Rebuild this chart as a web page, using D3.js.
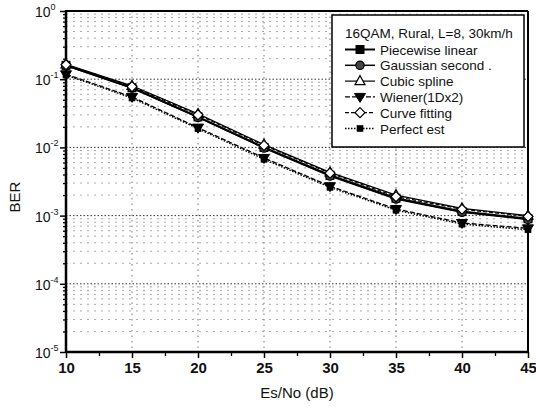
<!DOCTYPE html>
<html><head><meta charset="utf-8">
<script src="https://cdn.jsdelivr.net/npm/d3@7/dist/d3.min.js"></script>
<style>body{margin:0;background:#fff}svg{display:block;font-family:Arial,"Liberation Sans",sans-serif}</style>
</head><body><svg id="c" width="536" height="410"></svg>
<script>
const snr = [10, 15, 20, 25, 30, 35, 40, 45];
const piecewiseLinear = [0.160, 0.075, 0.028, 0.0100, 0.0039, 0.0018, 0.00115, 0.00090];
const gaussianSecond  = [0.158, 0.074, 0.0275, 0.0098, 0.0038, 0.00175, 0.00112, 0.00088];
const cubicSpline     = [0.165, 0.080, 0.031, 0.0110, 0.0043, 0.0020, 0.00128, 0.00100];
const wiener          = [0.118, 0.055, 0.0195, 0.0070, 0.0027, 0.00125, 0.00078, 0.00065];
const curveFitting    = [0.163, 0.078, 0.030, 0.0107, 0.0042, 0.0019, 0.00124, 0.00097];
const perfectEst      = [0.115, 0.053, 0.0188, 0.0067, 0.0026, 0.00120, 0.00075, 0.00062];
const seriesNames = ["Piecewise linear", "Gaussian second .", "Cubic spline", "Wiener(1Dx2)", "Curve fitting", "Perfect est"];
const xTicks = [10, 15, 20, 25, 30, 35, 40, 45];
const yExps = [0, -1, -2, -3, -4, -5];
const legendTitle = "16QAM, Rural, L=8, 30km/h";

const series = [
  {name: seriesNames[0], values: piecewiseLinear, marker: "square", fill: "#000", dash: null, w: 2},
  {name: seriesNames[1], values: gaussianSecond, marker: "circle", fill: "#444", dash: null, w: 1.5},
  {name: seriesNames[2], values: cubicSpline, marker: "triangle", fill: "#fff", dash: null, w: 1.2},
  {name: seriesNames[3], values: wiener, marker: "triangleDown", fill: "#000", dash: "5,2", w: 1.3},
  {name: seriesNames[4], values: curveFitting, marker: "diamond", fill: "#fff", dash: "4,2", w: 1.2},
  {name: seriesNames[5], values: perfectEst, marker: "smallSquare", fill: "#000", dash: "1.5,1.5", w: 1.4}
];

const svg = d3.select("#c");
const L = 66, R = 528, T = 11, B = 352;
const x = d3.scaleLinear().domain([10, 45]).range([L, R]);
const y = d3.scaleLog().domain([1e-5, 1]).range([B, T]);

// grid
const g = svg.append("g");
const minor = [];
for (let e = -5; e < 0; e++) for (let k = 2; k <= 9; k++) minor.push(k * Math.pow(10, e));
g.selectAll(".mg").data(minor).enter().append("line")
  .attr("x1", L).attr("x2", R).attr("y1", d => y(d)).attr("y2", d => y(d))
  .attr("stroke", "#aaa").attr("stroke-width", 1).attr("stroke-dasharray", "2,5");
g.selectAll(".Mg").data(yExps.slice(1, 5).map(e => Math.pow(10, e))).enter().append("line")
  .attr("x1", L).attr("x2", R).attr("y1", d => y(d)).attr("y2", d => y(d))
  .attr("stroke", "#333").attr("stroke-width", 1).attr("stroke-dasharray", "1.5,2");
g.selectAll(".vg").data(xTicks.slice(1, -1)).enter().append("line")
  .attr("y1", T).attr("y2", B).attr("x1", d => x(d)).attr("x2", d => x(d))
  .attr("stroke", "#777").attr("stroke-width", 1).attr("stroke-dasharray", "1.5,4");

// axes
const xAxis = d3.axisBottom(x).tickValues(xTicks).tickSize(6).tickPadding(4).tickFormat(d3.format("d"));
const xa = svg.append("g").attr("transform", `translate(0,${B})`).call(xAxis);
xa.selectAll(".tick line").attr("stroke-width", 1.5);
xa.select(".domain").remove();
xa.selectAll("text").attr("font-size", 15).attr("font-weight", "bold").attr("fill", "#111");
const xMinor = d3.axisBottom(x).tickValues(d3.range(12.5, 45, 5)).tickSize(4).tickFormat("");
const xm = svg.append("g").attr("transform", `translate(0,${B})`).call(xMinor);
xm.select(".domain").remove();
xm.selectAll(".tick line").attr("stroke-width", 1.3);

const yMinorAxis = d3.axisLeft(y).tickValues(minor).tickSize(3).tickFormat("");
const ym = svg.append("g").attr("transform", `translate(${L},0)`).call(yMinorAxis);
ym.select(".domain").remove();
ym.selectAll(".tick line").attr("stroke-width", 1.3);
const yAxis = d3.axisLeft(y).tickValues(yExps.map(e => Math.pow(10, e))).tickSize(6).tickFormat("");
const ya = svg.append("g").attr("transform", `translate(${L},0)`).call(yAxis);
ya.select(".domain").remove();
ya.selectAll(".tick line").attr("stroke-width", 1.5);
const yl = svg.append("g");
yExps.forEach(e => {
  const t = yl.append("text").attr("x", 35).attr("y", y(Math.pow(10, e)) + 6)
    .attr("text-anchor", "start").attr("font-size", 14).attr("fill", "#111");
  t.append("tspan").text("10");
  t.append("tspan").attr("dy", -7).attr("font-size", 9).text(String(e));
});

// frame
svg.append("line").attr("x1", L).attr("x2", L).attr("y1", T - 1).attr("y2", B + 1).attr("stroke", "#000").attr("stroke-width", 2.5);
svg.append("line").attr("x1", L).attr("x2", R).attr("y1", B).attr("y2", B).attr("stroke", "#000").attr("stroke-width", 2.5);
svg.append("line").attr("x1", L).attr("x2", R).attr("y1", T).attr("y2", T).attr("stroke", "#000").attr("stroke-width", 2);
svg.append("line").attr("x1", R).attr("x2", R).attr("y1", T).attr("y2", B).attr("stroke", "#000").attr("stroke-width", 2);

// titles
svg.append("text").attr("x", 297).attr("y", 398).attr("text-anchor", "middle")
  .attr("font-size", 15).attr("fill", "#111").text("Es/No (dB)");
svg.append("text").attr("transform", "translate(20,197) rotate(-90)").attr("text-anchor", "middle")
  .attr("font-size", 15).attr("fill", "#111").text("BER");

// markers
function drawMarker(sel, type, fill, cx, cy) {
  const s = 4;
  if (type === "square") sel.append("rect").attr("x", cx - s).attr("y", cy - s).attr("width", 2 * s).attr("height", 2 * s).attr("fill", fill).attr("stroke", "#000");
  else if (type === "smallSquare") sel.append("rect").attr("x", cx - 3).attr("y", cy - 3).attr("width", 6).attr("height", 6).attr("fill", fill).attr("stroke", "#000").attr("stroke-width", 0.6);
  else if (type === "circle") sel.append("circle").attr("cx", cx).attr("cy", cy).attr("r", 4.2).attr("fill", fill).attr("stroke", "#000").attr("stroke-width", 1.2);
  else if (type === "triangle") sel.append("path").attr("d", `M${cx},${cy - 5.5}L${cx + 5},${cy + 3.5}L${cx - 5},${cy + 3.5}Z`).attr("fill", fill).attr("stroke", "#000").attr("stroke-width", 1.2);
  else if (type === "triangleDown") sel.append("path").attr("d", `M${cx},${cy + 5.5}L${cx + 5.5},${cy - 3.5}L${cx - 5.5},${cy - 3.5}Z`).attr("fill", fill).attr("stroke", "#000");
  else if (type === "diamond") sel.append("path").attr("d", `M${cx},${cy - 5}L${cx + 5},${cy}L${cx},${cy + 5}L${cx - 5},${cy}Z`).attr("fill", fill).attr("stroke", "#000").attr("stroke-width", 1.2);
}

const line = d3.line().x((d, i) => x(snr[i])).y(d => y(d));
const plot = svg.append("g");
series.forEach(s => {
  plot.append("path").attr("d", line(s.values)).attr("fill", "none").attr("stroke", "#000")
    .attr("stroke-width", s.w).attr("stroke-dasharray", s.dash);
});
series.forEach(s => {
  const mg = plot.append("g");
  s.values.forEach((v, i) => drawMarker(mg, s.marker, s.fill, x(snr[i]), y(v)));
});

// legend
const lg = svg.append("g");
lg.append("rect").attr("x", 332).attr("y", 15).attr("width", 192).attr("height", 132)
  .attr("fill", "#fff").attr("stroke", "#000").attr("stroke-width", 1.5);
lg.append("text").attr("x", 345).attr("y", 38).attr("font-size", 13.5).attr("fill", "#111").text(legendTitle);
series.forEach((s, i) => {
  const cy = 49.5 + i * 15.8;
  lg.append("line").attr("x1", 345).attr("x2", 375).attr("y1", cy).attr("y2", cy)
    .attr("stroke", "#000").attr("stroke-width", s.w).attr("stroke-dasharray", s.dash);
  drawMarker(lg, s.marker, s.fill, 360, cy);
  lg.append("text").attr("x", 380).attr("y", cy + 5).attr("font-size", 13.5).attr("fill", "#111").text(s.name);
});
</script></body></html>
